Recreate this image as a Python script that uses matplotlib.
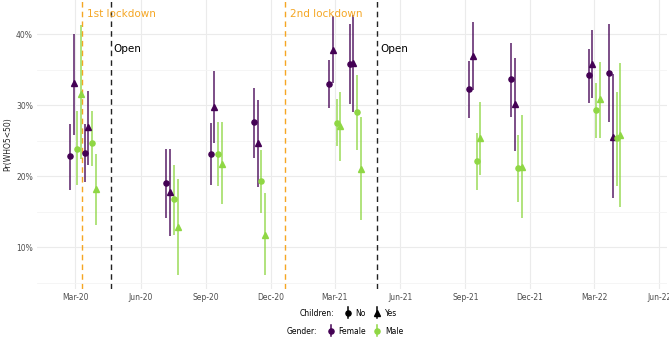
import matplotlib
matplotlib.use("Agg")
import matplotlib.pyplot as plt
import matplotlib.dates as mdates
import numpy as np
import pandas as pd
from matplotlib.lines import Line2D
from matplotlib.legend_handler import HandlerBase

# ---------------- data ----------------
wave_dates = ['2020-03-01', '2020-03-22', '2020-07-15', '2020-09-15', '2020-11-15',
              '2021-03-01', '2021-03-30', '2021-09-14', '2021-11-12', '2022-03-01', '2022-03-30']

f_no_est = [22.8, 23.3, 19.0, 23.1, 27.6, 33.0, 35.8, 32.3, 33.7, 34.2, 34.6]
f_no_lo = [18.1, 19.2, 14.1, 18.8, 22.6, 29.6, 30.2, 28.2, 28.4, 30.3, 27.6]
f_no_hi = [27.3, 27.4, 23.9, 27.5, 32.4, 36.4, 41.4, 36.3, 38.8, 37.9, 41.5]

f_yes_est = [33.1, 26.9, 17.8, 29.7, 24.7, 37.8, 36.0, 37.0, 30.2, 35.8, 25.6]
f_yes_lo = [25.8, 21.6, 11.6, 24.7, 18.5, 33.1, 29.1, 32.1, 23.5, 31.0, 16.9]
f_yes_hi = [40.1, 32.0, 23.9, 34.9, 30.8, 42.6, 42.7, 41.8, 36.6, 40.6, 34.4]

m_no_est = [23.9, 24.7, 16.8, 23.1, 19.4, 27.5, 29.1, 22.1, 21.2, 29.3, 25.4]
m_no_lo = [18.8, 21.4, 11.8, 18.6, 14.9, 24.2, 23.7, 18.1, 16.4, 25.4, 18.6]
m_no_hi = [29.2, 29.2, 21.6, 27.6, 23.7, 30.9, 34.3, 26.1, 25.8, 33.1, 31.9]

m_yes_est = [31.6, 18.2, 12.9, 21.8, 11.8, 27.1, 21.0, 25.4, 21.3, 30.9, 25.8]
m_yes_lo = [22.5, 13.1, 6.1, 16.1, 6.1, 22.2, 13.8, 20.2, 14.1, 25.4, 15.7]
m_yes_hi = [41.3, 23.1, 19.6, 27.6, 17.6, 31.9, 28.4, 30.5, 28.6, 36.1, 36.0]

lockdown_dates = ['2020-03-11', '2020-12-21']
lockdown_labels = ['1st lockdown', '2nd lockdown']
open_dates = ['2020-04-20', '2021-04-30']
open_labels = ['Open', 'Open']

x_ticks = ['2020-03-01', '2020-06-01', '2020-09-01', '2020-12-01', '2021-03-01', '2021-06-01',
           '2021-09-01', '2021-12-01', '2022-03-01', '2022-06-01']
y_ticks = [10, 20, 30, 40]

# ---------------- styling ----------------
PURPLE = '#440154'
GREEN = '#8FD744'
ORANGE = '#F5A623'

series = [
    ('Female', 'No', f_no_est, f_no_lo, f_no_hi),
    ('Female', 'Yes', f_yes_est, f_yes_lo, f_yes_hi),
    ('Male', 'No', m_no_est, m_no_lo, m_no_hi),
    ('Male', 'Yes', m_yes_est, m_yes_lo, m_yes_hi),
]
colors = {'Female': PURPLE, 'Male': GREEN}
markers = {'No': 'o', 'Yes': '^'}

fig = plt.figure(figsize=(6.69, 3.41), dpi=100)
ax = fig.add_axes([37 / 669, 52 / 341, 630 / 669, 289 / 341])

dates = pd.to_datetime(wave_dates)
dodge_step = 5.2  # days between dodged series
offsets = (np.arange(len(series)) - (len(series) - 1) / 2) * dodge_step

for i, (g, c, est, lo, hi) in enumerate(series):
    x = dates + pd.to_timedelta(offsets[i], unit='D')
    est = np.array(est); lo = np.array(lo); hi = np.array(hi)
    ax.vlines(x, lo, hi, color=colors[g], lw=1.15, alpha=0.85, zorder=3)
    ax.plot(x, est, linestyle='none', marker=markers[c], color=colors[g],
            markersize=3.7 if c == 'No' else 4.2, zorder=4)

for d, lab in zip(lockdown_dates, lockdown_labels):
    xd = pd.Timestamp(d)
    ax.axvline(xd, color=ORANGE, ls=(0, (4, 3)), lw=1.0, zorder=2)
    ax.text(xd + pd.Timedelta(days=7), 42.9, lab, color=ORANGE, fontsize=7.5,
            va='center', ha='left')
for d, lab in zip(open_dates, open_labels):
    xd = pd.Timestamp(d)
    ax.axvline(xd, color='#222222', ls=(0, (4, 3)), lw=1.0, zorder=2)
    ax.text(xd + pd.Timedelta(days=4), 37.9, lab, color='black', fontsize=7.5,
            va='center', ha='left')

ax.set_xlim(pd.Timestamp('2020-01-07'), pd.Timestamp('2020-01-07') + pd.Timedelta(days=886.6))
ax.set_ylim(4.13, 44.83)
ax.set_xticks(pd.to_datetime(x_ticks))
ax.xaxis.set_major_formatter(mdates.DateFormatter('%b-%y'))
ax.set_yticks(y_ticks)
ax.set_yticklabels([f'{v}%' for v in y_ticks])
ax.set_yticks([5, 15, 25, 35], minor=True)
ax.grid(True, which='major', color='#EBEBEB', lw=0.8, zorder=0)
ax.grid(True, which='minor', axis='y', color='#F4F4F4', lw=0.6, zorder=0)
for s in ax.spines.values():
    s.set_visible(False)
ax.tick_params(axis='both', which='both', length=0, labelsize=5.5, labelcolor='#4D4D4D', pad=3)
ax.set_ylabel('Pr(WHO5<50)', fontsize=5.5, color='#222222', labelpad=3)
ax.set_axisbelow(True)


# ---------------- legends ----------------
def key(color, marker):
    return Line2D([0], [0], color=color, marker=marker, markersize=4, lw=0)


class PointRangeHandler(HandlerBase):
    def create_artists(self, legend, orig_handle, xdescent, ydescent, width, height, fontsize, trans):
        cx = width / 2 - xdescent
        line = Line2D([cx, cx], [-ydescent - 2, height + 2], color=orig_handle.get_color(), lw=1.1,
                      transform=trans)
        pt = Line2D([cx], [height / 2 - ydescent], marker=orig_handle.get_marker(),
                    color=orig_handle.get_color(), markersize=3.7, lw=0, transform=trans)
        return [line, pt]


h_child = [key('black', 'o'), key('black', '^')]
h_gender = [key(PURPLE, 'o'), key(GREEN, 'o')]

fig.text(300 / 669, 1 - 313 / 341, 'Children:', fontsize=5.5, ha='left', va='center')
fig.legend(h_child, ['No', 'Yes'], loc='center left', bbox_to_anchor=(340 / 669, 1 - 313 / 341),
           ncol=2, frameon=False, fontsize=5.5, handlelength=1.0, handletextpad=0.5,
           columnspacing=1.0, borderpad=0, handler_map={Line2D: PointRangeHandler()})
fig.text(287 / 669, 1 - 331 / 341, 'Gender:', fontsize=5.5, ha='left', va='center')
fig.legend(h_gender, ['Female', 'Male'], loc='center left', bbox_to_anchor=(323 / 669, 1 - 331 / 341),
           ncol=2, frameon=False, fontsize=5.5, handlelength=1.0, handletextpad=0.5,
           columnspacing=1.0, borderpad=0, handler_map={Line2D: PointRangeHandler()})

fig.savefig('out.png', dpi=100)
